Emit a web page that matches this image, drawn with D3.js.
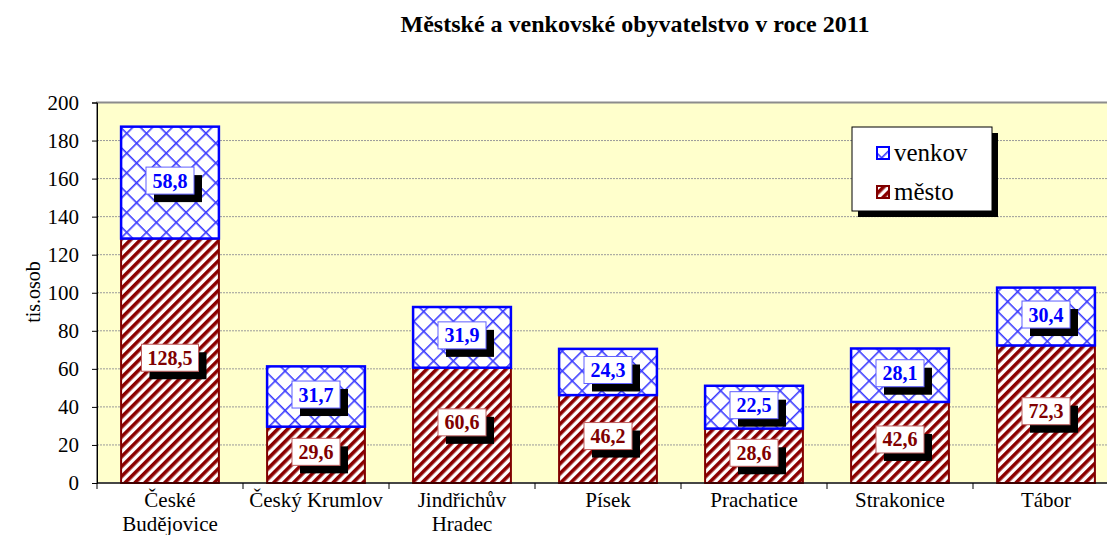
<!DOCTYPE html>
<html>
<head>
<meta charset="utf-8">
<script src="https://cdn.jsdelivr.net/npm/d3@7"></script>
<style>
  body { margin: 0; background: #fff; }
  svg text { font-family: "Liberation Serif", "Times New Roman", serif; }
</style>
</head>
<body>
<div id="chart"></div>
<script>
// data
var districts = ["České\nBudějovice", "Český Krumlov", "Jindřichův\nHradec", "Písek", "Prachatice", "Strakonice", "Tábor"];
var mesto  = [128.5, 29.6, 60.6, 46.2, 28.6, 42.6, 72.3];
var venkov = [58.8, 31.7, 31.9, 24.3, 22.5, 28.1, 30.4];
var yTicks = [0, 20, 40, 60, 80, 100, 120, 140, 160, 180, 200];

let width = 1107, height = 535;
let margin = {top: 102.5, right: -12, bottom: 52, left: 97};
let plotW = width - margin.left - margin.right,
    plotH = height - margin.top - margin.bottom;

let svg = d3.select("#chart").append("svg")
    .attr("width", width)
    .attr("height", height);

// patterns
let defs = svg.append("defs");
let stripe = defs.append("pattern")
    .attr("id", "mesto-pat")
    .attr("patternUnits", "userSpaceOnUse")
    .attr("width", 7).attr("height", 7)
    .attr("patternTransform", "rotate(45)");
stripe.append("rect").attr("width", 7).attr("height", 7).attr("fill", "#fff");
stripe.append("rect").attr("width", 3.6).attr("height", 7).attr("fill", "#8b0000");

let cross = defs.append("pattern")
    .attr("id", "venkov-pat")
    .attr("patternUnits", "userSpaceOnUse")
    .attr("width", 14).attr("height", 14)
    .attr("patternTransform", "rotate(45)");
cross.append("rect").attr("width", 14).attr("height", 14).attr("fill", "#fff");
cross.append("rect").attr("width", 1.6).attr("height", 14).attr("fill", "#3a3aff");
cross.append("rect").attr("width", 14).attr("height", 1.6).attr("fill", "#3a3aff");

let g = svg.append("g")
    .attr("transform", "translate(" + margin.left + "," + margin.top + ")");

let x = d3.scaleBand()
    .domain(districts)
    .range([0, plotW])
    .paddingInner(0.33)
    .paddingOuter(0.165);

let y = d3.scaleLinear()
    .domain([0, 200])
    .range([plotH, 0]);

// plot background
g.append("rect")
    .attr("width", plotW)
    .attr("height", plotH)
    .attr("fill", "#ffffcc")
    .attr("stroke", "#8c8c8c")
    .attr("stroke-width", 2);

// gridlines
g.selectAll(".grid")
    .data(yTicks.filter(d => d > 0 && d < 200))
    .enter().append("line")
    .attr("class", "grid")
    .attr("x1", 0).attr("x2", plotW)
    .attr("y1", d => y(d)).attr("y2", d => y(d))
    .attr("stroke", "#9a9a9a")
    .attr("stroke-width", 1)
    .attr("stroke-dasharray", "2,1");

// y axis
let yAxis = d3.axisLeft(y).tickValues(yTicks).tickSize(5).tickPadding(13);
let yg = g.append("g").call(yAxis);
yg.select(".domain").attr("stroke", "#000");
yg.selectAll("line").attr("stroke", "#000");
yg.selectAll("text").attr("font-size", 21).attr("fill", "#000")
    .style("font-family", "Liberation Serif, serif");

// bars
let stack = districts.map((d, i) => ({name: d, m: mesto[i], v: venkov[i]}));

g.selectAll(".bar-m")
    .data(stack)
    .enter().append("rect")
    .attr("class", "bar-m")
    .attr("x", d => x(d.name))
    .attr("y", d => y(d.m))
    .attr("width", x.bandwidth())
    .attr("height", d => y(0) - y(d.m))
    .attr("fill", "url(#mesto-pat)")
    .attr("stroke", "#800000")
    .attr("stroke-width", 2);

g.selectAll(".bar-v")
    .data(stack)
    .enter().append("rect")
    .attr("class", "bar-v")
    .attr("x", d => x(d.name))
    .attr("y", d => y(d.m + d.v))
    .attr("width", x.bandwidth())
    .attr("height", d => y(d.m) - y(d.m + d.v))
    .attr("fill", "url(#venkov-pat)")
    .attr("stroke", "#0000ff")
    .attr("stroke-width", 2.5);

// x axis
let xAxisG = g.append("g").attr("transform", "translate(0," + plotH + ")");
xAxisG.append("line")
    .attr("x1", 0).attr("x2", plotW)
    .attr("stroke", "#000").attr("stroke-width", 1);
let step = x.step();
let bounds = d3.range(districts.length + 1).map(i => x(districts[0]) - step * x.paddingInner() / 2 + i * step);
xAxisG.selectAll(".xtick")
    .data(bounds)
    .enter().append("line")
    .attr("x1", d => d).attr("x2", d => d)
    .attr("y1", 0).attr("y2", 6)
    .attr("stroke", "#000");

xAxisG.selectAll(".xlab")
    .data(districts)
    .enter().append("text")
    .attr("text-anchor", "middle")
    .attr("font-size", 21)
    .attr("fill", "#000")
    .attr("x", d => x(d) + x.bandwidth() / 2)
    .attr("y", 24)
    .each(function(d) {
        let lines = d.split("\n");
        let t = d3.select(this);
        lines.forEach((l, i) => {
            t.append("tspan")
                .attr("x", x(d) + x.bandwidth() / 2)
                .attr("dy", i === 0 ? 0 : 24)
                .text(l);
        });
    });

// value labels with shadowed boxes
function addLabel(cx, cy, val, color, border) {
    let txt = d3.format(".1f")(val).replace(".", ",");
    let w = txt.length * 9 + 12, h = 27;
    let lg = g.append("g").attr("transform", "translate(" + (cx - w / 2) + "," + (cy - h / 2) + ")");
    lg.append("rect").attr("x", 8).attr("y", 8).attr("width", w).attr("height", h).attr("fill", "#000");
    lg.append("rect").attr("width", w).attr("height", h).attr("fill", "#fff")
        .attr("stroke", border).attr("stroke-width", 1);
    lg.append("text")
        .attr("x", w / 2).attr("y", h / 2 + 7)
        .attr("text-anchor", "middle")
        .attr("font-size", 20)
        .attr("font-weight", "bold")
        .attr("fill", color)
        .text(txt);
}

stack.forEach(d => {
    let cx = x(d.name) + x.bandwidth() / 2;
    addLabel(cx, y(d.m / 2) - 3, d.m, "#800000", "#c06060");
    addLabel(cx, y(d.m + d.v / 2) - 2, d.v, "#0000ff", "#6060ff");
});

// y axis title
svg.append("text")
    .attr("transform", "translate(40,292) rotate(-90)")
    .attr("text-anchor", "middle")
    .attr("font-size", 20)
    .text("tis.osob");

// title
svg.append("text")
    .attr("x", 635).attr("y", 32)
    .attr("text-anchor", "middle")
    .attr("font-size", 24)
    .attr("font-weight", "bold")
    .text("Městské a venkovské obyvatelstvo v roce 2011");

// legend
let leg = svg.append("g").attr("transform", "translate(852,127)");
leg.append("rect").attr("x", 6).attr("y", 6).attr("width", 140).attr("height", 84).attr("fill", "#000");
leg.append("rect").attr("width", 140).attr("height", 84).attr("fill", "#fff").attr("stroke", "#000").attr("stroke-width", 1);
let legItems = [
    {label: "venkov", fill: "url(#venkov-pat)", stroke: "#0000ff", yy: 26},
    {label: "město", fill: "url(#mesto-pat)", stroke: "#800000", yy: 65}
];
legItems.forEach(it => {
    leg.append("rect")
        .attr("x", 25).attr("y", it.yy - 6)
        .attr("width", 12).attr("height", 12)
        .attr("fill", it.fill)
        .attr("stroke", it.stroke).attr("stroke-width", 2);
    leg.append("text")
        .attr("x", 42).attr("y", it.yy + 8)
        .attr("font-size", 25)
        .text(it.label);
});
</script>
</body>
</html>
